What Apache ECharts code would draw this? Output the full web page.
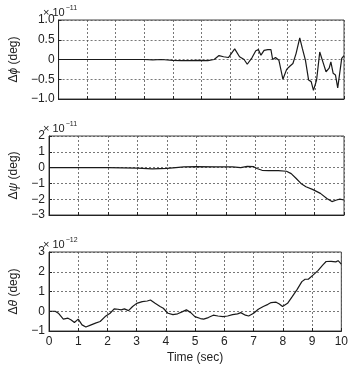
<!DOCTYPE html>
<html><head><meta charset="utf-8">
<script src="https://cdn.jsdelivr.net/npm/echarts@6/dist/echarts.min.js"></script>
<style>html,body{margin:0;padding:0;background:#fff}#c{width:351px;height:373px}</style>
</head><body><div id="c"></div>
<script>
// Δφ, units of 1e-11 deg
const phiT = [0,0.5,1,1.5,2,2.5,3,3.3,3.6,4,4.3,4.6,4.9,5.23,5.45,5.62,5.78,5.95,6.17,6.34,6.5,6.61,6.78,6.91,7.0,7.09,7.2,7.27,7.33,7.44,7.5,7.6,7.72,7.86,7.99,8.1,8.21,8.32,8.45,8.54,8.65,8.76,8.85,8.93,9.04,9.15,9.26,9.37,9.48,9.54,9.62,9.7,9.78,9.85,9.92,10.0];
const phiV = [0,0,0,0,0,0,0,-0.01,0,-0.02,-0.03,-0.03,-0.02,-0.03,0,0.1,0.07,0.05,0.27,0.07,0,-0.12,0.05,0.22,0.25,0.11,0.23,0.19,0.25,0.25,0,0.05,-0.02,-0.5,-0.25,-0.17,-0.1,0.15,0.55,0.28,-0.02,-0.52,-0.56,-0.78,-0.52,0.19,-0.06,-0.31,-0.22,-0.06,-0.35,-0.39,-0.72,-0.68,0.03,0.1];
// Δψ, units of 1e-11 deg
const psiT = [0,1,2,3,3.5,4,4.3,4.57,5.0,5.67,6.22,6.5,6.72,6.94,7.05,7.22,7.44,7.77,8.05,8.21,8.38,8.54,8.71,8.93,9.2,9.42,9.59,9.75,9.86,10.0];
const psiV = [0,0,0,-0.03,-0.08,-0.05,0,0.04,0.06,0.04,0.04,0,0.08,0.06,-0.06,-0.17,-0.19,-0.19,-0.23,-0.38,-0.69,-1.0,-1.21,-1.38,-1.63,-1.95,-2.15,-2.05,-2.0,-2.05];
// Δθ, units of 1e-12 deg
const thT = [0,0.21,0.32,0.49,0.65,0.76,0.87,1.0,1.13,1.26,1.42,1.59,1.75,1.92,2.09,2.23,2.36,2.47,2.58,2.72,2.86,3.0,3.19,3.36,3.47,3.63,3.8,3.91,4.07,4.24,4.4,4.57,4.7,4.85,4.99,5.18,5.29,5.45,5.62,5.78,5.95,6.11,6.28,6.45,6.56,6.72,6.83,7.0,7.16,7.33,7.49,7.6,7.77,7.88,7.99,8.16,8.32,8.49,8.65,8.76,8.87,9.04,9.2,9.37,9.48,9.65,9.81,9.89,10.0];
const thV = [0,0,-0.1,-0.4,-0.35,-0.44,-0.57,-0.4,-0.69,-0.8,-0.7,-0.6,-0.52,-0.27,-0.1,0.12,0.1,0.07,0.12,0.03,0.24,0.4,0.49,0.52,0.57,0.4,0.24,0.15,-0.1,-0.17,-0.13,-0.02,0.07,-0.07,-0.27,-0.37,-0.4,-0.32,-0.2,-0.24,-0.27,-0.24,-0.17,-0.13,-0.07,-0.2,-0.24,-0.1,0.1,0.24,0.35,0.44,0.46,0.37,0.24,0.4,0.74,1.11,1.5,1.62,1.62,1.84,2.06,2.35,2.52,2.53,2.5,2.56,2.39];
const xTicks = [0,1,2,3,4,5,6,7,8,9,10];
const panels = [
  {name:'Δ{i|ϕ} (deg)', exp:'−11', min:-1, max:1, interval:0.5, t:phiT, v:phiV, fmt:v=>v===0?'0':(v<0?'−':'')+Math.abs(v).toFixed(1)},
  {name:'Δ{i|ψ} (deg)', exp:'−11', min:-3, max:2, interval:1, t:psiT, v:psiV, fmt:v=>(v<0?'−':'')+Math.abs(v)},
  {name:'Δ{i|θ} (deg)', exp:'−12', min:-1, max:3, interval:1, t:thT, v:thV, fmt:v=>(v<0?'−':'')+Math.abs(v)}
];
const tops = [20,136,252];
const H = 79;
const font = 'Liberation Sans, Arial, sans-serif';
const gridC = '#555';
const chart = echarts.init(document.getElementById('c'), null, {renderer:'canvas'});
const option = {
  animation:false,
  backgroundColor:'#fff',
  grid: tops.map(t=>({left:42, right:7, top:t, height:H, show:true, borderColor:'#444', borderWidth:1, backgroundColor:'transparent'})),
  xAxis: panels.map((p,i)=>({
    type:'value', gridIndex:i, min:0, max:10, interval:1,
    axisLine:{show:true, onZero:false, lineStyle:{color:'#222', width:1}},
    axisTick:{show:true, inside:true, length:3, lineStyle:{color:'#222'}},
    axisLabel:{show:i===2, color:'#222', fontSize:12, fontFamily:font, margin:5},
    splitLine:{show:true, lineStyle:{color:gridC, type:[2,2], width:0.8}},
    name: i===2?'Time (sec)':'', nameLocation:'middle', nameGap:21,
    nameTextStyle:{color:'#222', fontSize:12, fontFamily:font}
  })),
  yAxis: panels.map((p,i)=>({
    type:'value', gridIndex:i, min:p.min, max:p.max, interval:p.interval,
    axisLine:{show:true, onZero:false, lineStyle:{color:'#222', width:1}},
    axisTick:{show:true, inside:true, length:3, lineStyle:{color:'#222'}},
    axisLabel:{color:'#222', fontSize:12, fontFamily:font, margin:4, formatter:p.fmt},
    splitLine:{show:true, lineStyle:{color:gridC, type:[2,2], width:0.8}},
    name:p.name, nameLocation:'middle', nameGap:29, nameRotate:90,
    nameTextStyle:{color:'#222', fontSize:12, fontFamily:font, rich:{i:{fontStyle:'italic', fontSize:12, fontFamily:font, color:'#222'}}}
  })),
  series: panels.map((p,i)=>({
    type:'line', xAxisIndex:i, yAxisIndex:i, showSymbol:false, symbol:'none',
    lineStyle:{color:'#1a1a1a', width:1.2},
    data:p.t.map((t,k)=>[t,p.v[k]])
  })),
  graphic: panels.map((p,i)=>({
    type:'text', left:43, top:tops[i]-15,
    style:{text:'{a|× 10}{b|'+p.exp+'}', rich:{
      a:{fontSize:11, fontFamily:font, fill:'#222', verticalAlign:'bottom'},
      b:{fontSize:7, fontFamily:font, fill:'#222', verticalAlign:'top', padding:[0,0,6,1]}
    }}
  }))
};
chart.setOption(option);
</script></body></html>
